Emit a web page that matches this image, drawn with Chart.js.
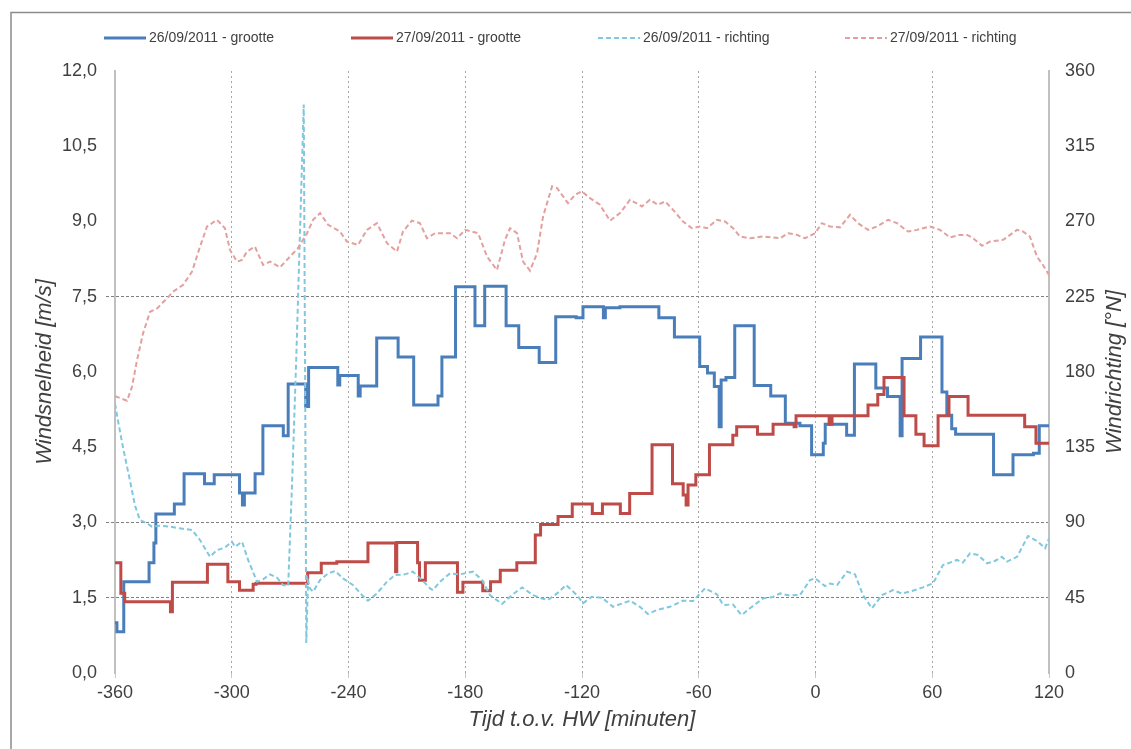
<!DOCTYPE html>
<html>
<head>
<meta charset="utf-8">
<title>Windsnelheid en windrichting</title>
<script src="https://cdn.jsdelivr.net/npm/chart.js@4.4.0/dist/chart.umd.min.js"></script>
<style>
    html, body { margin: 0; padding: 0; background: #fff; }
</style>
</head>
<body>
<canvas id="windChart" width="1131" height="749"></canvas>
<script>
// Time axis (minutes relative to high water) and tick values
const xTicks = [-360, -300, -240, -180, -120, -60, 0, 60, 120];
const speedTicks = [0, 1.5, 3, 4.5, 6, 7.5, 9, 10.5, 12];
const dirTicks = [0, 45, 90, 135, 180, 225, 270, 315, 360];
const refLines = [1.5, 3, 7.5]; // dotted horizontal lines

const labels = ['26/09/2011 - grootte', '27/09/2011 - grootte', '26/09/2011 - richting', '27/09/2011 - richting'];

// 26/09 wind speed (m/s) - each value holds until the next time
const blueTime = [-360, -359, -355.5, -342.5, -340, -339, -329.5, -324.5, -314, -309, -296, -294.5, -293.5, -288, -284, -273.5, -271, -262, -260.5, -245.5,
    -244.5, -235, -234, -225.5, -214.5, -206.5, -194, -192, -185, -175, -170, -159, -152.5, -142, -133.5, -123, -119.5, -109, -108, -100.5,
    -80.5, -72.5, -59.5, -55.5, -52, -49.5, -48.5, -46, -41.5, -31.5, -23, -15.5, -8, -2, 4, 5, 16, 20, 31, 37,
    43.5, 44.5, 54, 65, 67.5, 70, 72, 91.5, 101.5, 112, 115, 120];
const blueSpeed = [1.0, 0.82, 1.82, 2.2, 2.59, 3.17, 3.37, 3.97, 3.77, 3.95, 3.59, 3.35, 3.59, 3.97, 4.93, 4.73, 5.76, 5.31, 6.09, 5.74,
    5.93, 5.52, 5.72, 6.68, 6.30, 5.34, 5.52, 6.30, 7.70, 6.92, 7.71, 6.92, 6.49, 6.19, 7.10, 7.08, 7.30, 7.08, 7.28, 7.30,
    7.08, 6.70, 6.11, 5.98, 5.71, 4.91, 5.84, 5.89, 6.92, 5.73, 5.52, 4.98, 4.93, 4.35, 4.58, 4.96, 4.74, 6.16, 5.68, 5.51,
    4.73, 6.27, 6.70, 5.60, 5.14, 4.87, 4.76, 3.95, 4.35, 4.38, 4.93, 4.93];

// 27/09 wind speed (m/s)
const redTime = [-360, -357, -355, -331.5, -330.5, -312.5, -302, -296, -289, -287.5, -261, -254, -246, -230, -215.8, -215.2, -204.5, -203.5, -200.5, -184,
    -181.2, -171, -167, -162, -153.5, -144, -141.3, -132.3, -125, -114.7, -109.5, -100.3, -95.5, -84, -73.5, -68, -66.5, -65.5, -61.5, -54.5,
    -42.5, -40.5, -29.8, -21.8, -11, -10, 7, 8.5, 27, 32, 35.2, 45.5, 51.6, 55.8, 63, 68.6, 78.4, 107.5, 113.3, 120];
const redSpeed = [2.2, 1.59, 1.42, 1.22, 1.81, 2.17, 1.82, 1.65, 1.77, 1.79, 2.0, 2.19, 2.22, 2.59, 2.02, 2.6, 2.2, 1.85, 2.2, 1.61,
    1.81, 1.64, 1.82, 2.05, 2.2, 2.75, 2.96, 3.12, 3.37, 3.18, 3.37, 3.18, 3.58, 4.55, 3.77, 3.55, 3.35, 3.75, 3.95, 4.55,
    4.74, 4.91, 4.76, 4.96, 4.91, 5.13, 4.96, 5.13, 5.34, 5.55, 5.89, 5.13, 4.76, 4.53, 5.13, 5.51, 5.14, 4.91, 4.58, 4.58];

// 26/09 wind direction (degrees N)
const cyanTime = [-360, -358.5, -355.9, -352.3, -349.7, -347.2, -343.6, -341, -336.9, -331.7, -326.6, -320.4, -316.3, -311.2, -307.6, -303.5, -299.9, -298.3, -294.7, -291.6,
    -287, -283.9, -280.3, -276.7, -273.7, -271, -268.8, -266.8, -264.9, -263, -262.3, -261.7, -260.8, -259.8, -258.2, -254.6, -250.5, -246.9, -242.8, -237.7,
    -233.1, -230, -225.4, -220.2, -216.1, -211, -206.9, -202.2, -198.1, -196.6, -193, -187.8, -182.7, -176, -171.4, -167.3, -161.1, -156, -150.8, -145.2,
    -140.6, -137.5, -132.8, -128.2, -122.6, -119.5, -114.9, -109.7, -104.1, -95.3, -90.2, -86.1, -81.5, -74.8, -68.1, -63, -56.8, -50.6, -47.5, -42.4,
    -38.8, -37.8, -33.7, -27, -21.8, -18.2, -14.1, -8, -2.8, -0.2, 4.9, 7.5, 11.1, 16.2, 20.3, 24.4, 29, 34.2, 39.8, 44.5,
    49.6, 55.2, 60.4, 65.5, 69.1, 72.7, 75.7, 79.4, 83.5, 88.1, 92.2, 95.8, 98.4, 103.6, 109.2, 114.3, 118, 120];
const cyanDir = [161, 151, 135, 115, 100, 91.5, 89.5, 87.5, 88, 87.5, 86.5, 85.5, 79.5, 69.5, 73.5, 75, 78.5, 75.5, 78.5, 67.6,
    54.6, 56, 59, 57, 52.6, 52, 120, 190, 265, 340, 180, 18, 55, 50.6, 48.6, 55.6, 59.6, 61, 56.6, 52.6,
    46.6, 43.2, 47.6, 54.6, 58.6, 59, 60.6, 55.6, 50.6, 49.6, 54.6, 59.6, 59, 60.6, 55.6, 46.6, 41.3, 46.6, 51.2, 46.6,
    44.6, 43.7, 47.6, 52.6, 46.6, 41.7, 45.6, 45, 39.6, 43.2, 39.6, 35.3, 37.7, 39.6, 43.2, 43, 50.6, 47, 40.7, 41,
    35.7, 34.7, 38.7, 44.6, 45.5, 47.6, 46.5, 46.6, 55.6, 56.6, 52, 53.5, 52.6, 60.6, 59, 46.6, 38.7, 46.6, 49.6, 47.5,
    49, 51.2, 53.6, 64.6, 66, 67.6, 66, 71.6, 70.6, 65.6, 67, 69.5, 66.6, 69.5, 81.9, 78.5, 74.6, 80.5];

// 27/09 wind direction (degrees N)
const pinkTime = [-360, -353.8, -351.3, -348.7, -345.6, -342, -338.4, -333.3, -330.2, -325.1, -320.4, -316.3, -312.7, -307.6, -303.5, -300.9, -297.3, -294.7, -292.2, -288.1,
    -283.9, -280.3, -275.2, -270.1, -266, -261.3, -258.2, -254.6, -250.5, -244.4, -240.8, -235.1, -230.5, -225.4, -220.2, -215.1, -212, -207.4, -203.3, -199.7,
    -195.5, -187.8, -184.2, -180.1, -173.4, -168.8, -163.7, -159.6, -157, -153.4, -150.3, -146.7, -143.1, -140, -135.4, -132.8, -127.2, -123.6, -120, -115.9,
    -110.8, -105.6, -100.5, -95.3, -89.2, -85.1, -81, -77.3, -73.2, -68.1, -63.5, -59.4, -55.8, -50.6, -46.5, -42.4, -38.8, -33.7, -27, -18.2,
    -14.1, -9.5, -5.4, -0.2, 3.3, 7.5, 12.6, 17.7, 21.8, 27, 31.6, 37.3, 41.9, 47.5, 52.2, 58.8, 64, 69.1, 74.3, 77.9,
    81, 85.6, 89.7, 96.4, 103.6, 106.6, 110.2, 113.8, 116.9, 120];
const pinkDir = [165.6, 162.8, 171, 187, 203, 216, 218, 224, 228, 232, 240, 255, 267, 271, 266, 253, 246, 247, 252, 255,
    244, 246, 242.6, 249, 254, 263, 271, 275, 268, 264, 258, 256, 265, 269, 257, 252, 264, 270.5, 269, 260,
    263, 263, 260, 265, 263, 249, 241, 259, 266, 263, 246, 240.6, 251, 273, 291, 290, 281, 286, 288, 284,
    280, 270.5, 275, 283, 279, 283, 280, 282, 277, 270, 266, 267, 266, 271, 270, 266, 261, 260, 261, 260,
    263, 262, 260, 263, 269, 267, 266.5, 274, 269, 265, 267, 271, 269, 264, 265, 267, 265, 260.5, 262, 262,
    260, 255.5, 258, 259, 265, 264, 261, 249, 244, 238];

const fontFamily = '"Liberation Sans", Arial, sans-serif';
const textColor = '#404040';

function toPoints(times, values) {
    return times.map((t, i) => ({ x: t, y: values[i] }));
}

// thin grey frame round the chart (only top and left are visible)
const framePlugin = {
    id: 'frame',
    beforeDraw(chart) {
        const c = chart.ctx;
        c.save();
        c.strokeStyle = '#8c8c8c';
        c.lineWidth = 1.5;
        c.beginPath();
        c.moveTo(11, chart.height);
        c.lineTo(11, 12.5);
        c.lineTo(chart.width, 12.5);
        c.stroke();
        c.restore();
    }
};

// Excel-like legend: equal columns, line samples
const legendPlugin = {
    id: 'lineLegend',
    afterDraw(chart) {
        const c = chart.ctx;
        c.save();
        c.font = '14px ' + fontFamily;
        c.textBaseline = 'middle';
        c.textAlign = 'left';
        chart.data.datasets.forEach((ds, i) => {
            const x0 = 104 + i * 247;
            const y = 38;
            c.strokeStyle = ds.borderColor;
            c.lineWidth = ds.borderWidth;
            c.setLineDash(ds.borderDash || []);
            c.beginPath();
            c.moveTo(x0, y);
            c.lineTo(x0 + 42, y);
            c.stroke();
            c.setLineDash([]);
            c.fillStyle = textColor;
            c.fillText(ds.label, x0 + 45, y);
        });
        c.restore();
    }
};

// right axis title, rotated like the left one
const rightTitlePlugin = {
    id: 'rightTitle',
    afterDraw(chart) {
        const area = chart.chartArea;
        const c = chart.ctx;
        c.save();
        c.translate(1115, (area.top + area.bottom) / 2);
        c.rotate(-Math.PI / 2);
        c.font = 'italic 22px ' + fontFamily;
        c.fillStyle = textColor;
        c.textAlign = 'center';
        c.textBaseline = 'middle';
        c.fillText('Windrichting [°N]', 0, 0);
        c.restore();
    }
};

const ctx = document.getElementById('windChart').getContext('2d');

const windChart = new Chart(ctx, {
    type: 'line',
    data: {
        datasets: [{
            label: labels[0],
            data: toPoints(blueTime, blueSpeed),
            borderColor: '#4a7ebb',
            borderWidth: 3,
            stepped: true,
            yAxisID: 'y',
            order: 4
        }, {
            label: labels[1],
            data: toPoints(redTime, redSpeed),
            borderColor: '#be4b48',
            borderWidth: 3,
            stepped: true,
            yAxisID: 'y',
            order: 3
        }, {
            label: labels[2],
            data: toPoints(cyanTime, cyanDir),
            borderColor: '#80c8de',
            borderWidth: 2,
            borderDash: [5, 3],
            yAxisID: 'y1',
            order: 2
        }, {
            label: labels[3],
            data: toPoints(pinkTime, pinkDir),
            borderColor: '#e3a09e',
            borderWidth: 2,
            borderDash: [5, 3],
            yAxisID: 'y1',
            order: 1
        }]
    },
    options: {
        responsive: false,
        animation: false,
        layout: { padding: { top: 71, left: 0, right: 0, bottom: 0 } },
        elements: {
            point: { radius: 0 },
            line: { tension: 0, fill: false }
        },
        plugins: {
            legend: { display: false },
            tooltip: { enabled: false }
        },
        scales: {
            x: {
                type: 'linear',
                min: xTicks[0],
                max: xTicks[xTicks.length - 1],
                afterBuildTicks: scale => { scale.ticks = xTicks.map(v => ({ value: v })); },
                afterFit: scale => { scale.height = 76; },
                ticks: {
                    autoSkip: false,
                    maxRotation: 0,
                    padding: 4,
                    color: textColor,
                    font: { family: fontFamily, size: 18 },
                    callback: value => String(value)
                },
                grid: {
                    color: '#a6a6a6',
                    lineWidth: 1,
                    drawTicks: true,
                    tickLength: 5,
                    tickColor: '#c8c8c8'
                },
                border: { display: false, dash: [2, 3] },
                title: {
                    display: true,
                    text: 'Tijd t.o.v. HW [minuten]',
                    color: textColor,
                    font: { family: fontFamily, size: 22, style: 'italic' },
                    padding: { top: 0, bottom: 16 }
                }
            },
            y: {
                position: 'left',
                min: speedTicks[0],
                max: speedTicks[speedTicks.length - 1],
                afterBuildTicks: scale => { scale.ticks = speedTicks.map(v => ({ value: v })); },
                afterFit: scale => { scale.width = 115; },
                ticks: {
                    padding: 9,
                    color: textColor,
                    font: { family: fontFamily, size: 18 },
                    callback: value => value.toFixed(1).replace('.', ',')
                },
                grid: {
                    color: c => refLines.includes(c.tick.value) ? '#808080' : 'transparent',
                    tickColor: c => refLines.includes(c.tick.value) ? '#808080' : 'transparent',
                    lineWidth: 1,
                    drawTicks: true,
                    tickLength: 9,
                    tickBorderDash: [3, 2]
                },
                border: { display: true, color: '#c0c0c0', width: 2, dash: [3, 2] },
                title: {
                    display: true,
                    text: 'Windsnelheid [m/s]',
                    color: textColor,
                    font: { family: fontFamily, size: 22, style: 'italic' },
                    padding: { top: 32, bottom: 0 }
                }
            },
            y1: {
                position: 'right',
                min: dirTicks[0],
                max: dirTicks[dirTicks.length - 1],
                afterBuildTicks: scale => { scale.ticks = dirTicks.map(v => ({ value: v })); },
                afterFit: scale => { scale.width = 82; },
                ticks: {
                    padding: 16,
                    color: textColor,
                    font: { family: fontFamily, size: 18 },
                    callback: value => String(value)
                },
                grid: { display: false, drawTicks: false },
                border: { display: true, color: '#c0c0c0', width: 2 }
            }
        }
    },
    plugins: [framePlugin, legendPlugin, rightTitlePlugin]
});
</script>
</body>
</html>
